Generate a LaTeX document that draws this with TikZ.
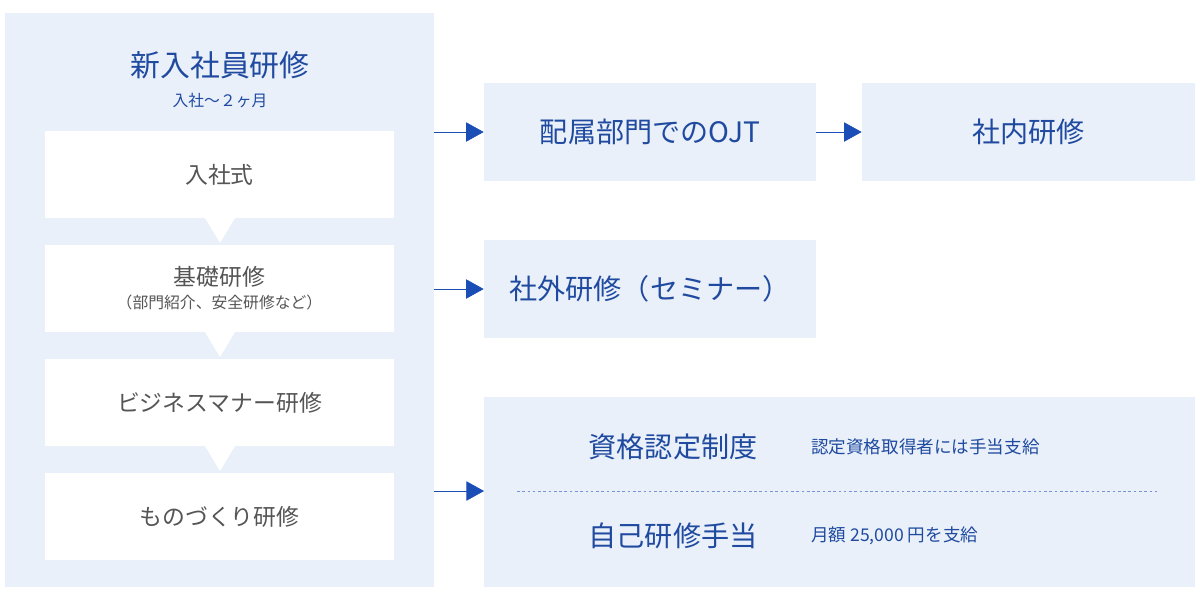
\documentclass[tikz,border=0pt]{standalone}
\usepackage{fontspec}
\setmainfont{Noto Sans CJK JP}
\usetikzlibrary{arrows.meta}
\definecolor{panelbg}{HTML}{E9F0F9}
\definecolor{titleblue}{HTML}{1F4AA0}
\definecolor{arrowblue}{HTML}{1A4DB5}
\definecolor{stepgray}{HTML}{555555}
\begin{document}
\begin{tikzpicture}
    [x=0.02cm, y=-0.02cm,
    panel/.style={fill=panelbg, draw=none},
    stepbox/.style={fill=white, draw=none, minimum width=349*0.02cm, minimum height=87*0.02cm, text=stepgray, font=\fontsize{13}{15}\selectfont, align=center},
    bluebox/.style={fill=panelbg, draw=none, minimum width=332*0.02cm, minimum height=98*0.02cm, text=titleblue, font=\fontsize{16}{18}\selectfont},
    link/.style={arrowblue, thin, -{Triangle[length=10pt, width=11pt]}}]

    \useasboundingbox (0,0) rectangle (1201,600);

    % left panel
    \fill[panelbg] (5,13) rectangle (434,587);
    \node[text=titleblue, font=\fontsize{17}{19}\selectfont] (title) at (220,65) {新入社員研修};
    \node[text=titleblue, font=\fontsize{9}{11}\selectfont] (period) at (220,100) {入社〜２ヶ月};

    \node[stepbox] (s1) at (219.5,174.5) {入社式};
    \node[stepbox] (s2) at (219.5,288.5) {基礎研修\\[-2pt]{\fontsize{9}{11}\selectfont （部門紹介、安全研修など）}};
    \node[stepbox] (s3) at (219.5,402.5) {ビジネスマナー研修};
    \node[stepbox] (s4) at (219.5,516.5) {ものづくり研修};

    % small pointers between steps
    \foreach \y in {218,332,446}
        \fill[white] (205,\y) -- (235,\y) -- (220,\y+25) -- cycle;

    % right boxes
    \node[bluebox] (ojt) at (650,132) {配属部門でのOJT};
    \node[bluebox, minimum width=333*0.02cm] (inner) at (1028.5,132) {社内研修};
    \node[bluebox] (outer) at (650,289) {社外研修（セミナー）};
    \fill[panelbg] (484,397) rectangle (1195,587);
    \draw[arrowblue!60, dashed, dash pattern=on 1.5pt off 1.5pt] (517,491) -- (1160,491);
    \node[text=titleblue, font=\fontsize{16}{18}\selectfont] (qual) at (673,447) {資格認定制度};
    \node[text=titleblue, font=\fontsize{10}{12}\selectfont, anchor=west] (qualnote) at (805,447) {認定資格取得者には手当支給};
    \node[text=titleblue, font=\fontsize{16}{18}\selectfont] (self) at (673,536) {自己研修手当};
    \node[text=titleblue, font=\fontsize{10}{12}\selectfont, anchor=west] (selfnote) at (805,536) {月額 25,000 円を支給};

    % arrows
    \coordinate (a1) at (434,132);
    \coordinate (a2) at (434,289);
    \coordinate (a3) at (434,491);
    \coordinate (b3) at (484,491);
    \draw[link] (a1) -- (ojt.west);
    \draw[link] (ojt.east) -- (inner.west);
    \draw[link] (a2) -- (outer.west);
    \draw[link] (a3) -- (b3);
\end{tikzpicture}
\end{document}
